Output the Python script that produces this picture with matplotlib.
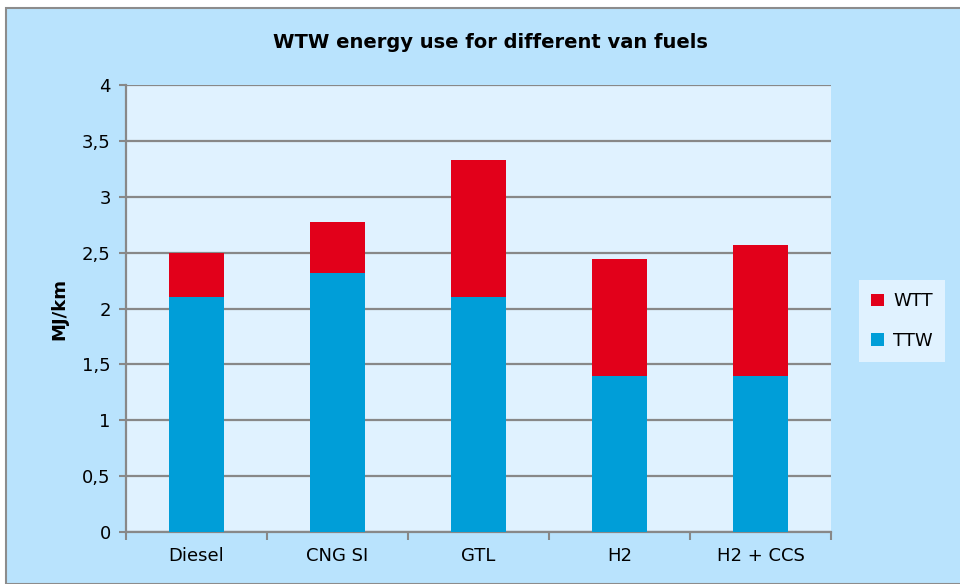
import numpy as np
import matplotlib.pyplot as plt
from matplotlib.patches import Rectangle
from matplotlib.ticker import FuncFormatter

fuels = ["Diesel", "CNG SI", "GTL", "H2", "H2 + CCS"]
ttw = [2.10, 2.32, 2.10, 1.40, 1.40]
wtt = [0.40, 0.45, 1.23, 1.04, 1.17]

plt.rcParams['font.family'] = ['DejaVu Sans']

fig = plt.figure(figsize=(9.6, 5.84), dpi=100)
fig.patch.set_facecolor('white')
bg = Rectangle((6 / 960, 0), 1, 1 - 8 / 584, transform=fig.transFigure,
               facecolor='#b9e3fd', edgecolor='#8c8c8c', linewidth=1.5, zorder=-10)
fig.patches.append(bg)

ax = fig.add_axes([126 / 960, 52 / 584, 705 / 960, 447 / 584])
ax.set_facecolor('#e0f2ff')
x = np.arange(len(fuels))
ax.bar(x, ttw, width=0.39, color='#009ed8', label='TTW', zorder=3)
ax.bar(x, wtt, width=0.39, bottom=ttw, color='#e2001a', label='WTT', zorder=3)

ax.set_xlim(-0.5, len(fuels) - 0.5)
ax.set_ylim(0, 4)
ax.set_yticks(np.arange(0, 4.01, 0.5))
ax.yaxis.set_major_formatter(FuncFormatter(lambda v, p: ('%g' % v).replace('.', ',')))
ax.grid(axis='y', color='#888888', linewidth=1.6, zorder=1)
ax.set_xticks(x)
ax.set_xticklabels(fuels)
ax.set_xticks(np.arange(-0.5, len(fuels)), minor=True)
ax.tick_params(axis='x', which='major', length=0, pad=11, labelsize=13)
ax.tick_params(axis='x', which='minor', length=6, width=1.5, color='#888888')
ax.tick_params(axis='y', length=5, width=1.5, color='#888888', labelsize=13, pad=6)
for s in ['top', 'right']:
    ax.spines[s].set_visible(False)
for s in ['left', 'bottom']:
    ax.spines[s].set_color('#888888')
    ax.spines[s].set_linewidth(1.6)

ax.set_ylabel('MJ/km', fontsize=13, fontweight='bold', labelpad=10)
fig.text(490 / 960, 1 - 42 / 584, 'WTW energy use for different van fuels',
         ha='center', va='center', fontsize=14, fontweight='bold')

h, l = ax.get_legend_handles_labels()
leg = fig.legend(h[::-1], l[::-1], loc='center', bbox_to_anchor=(902 / 960, 1 - 321 / 584),
                 frameon=True, fancybox=False, facecolor='#e0f2ff', edgecolor='none',
                 fontsize=13, handlelength=0.7, handleheight=0.7, labelspacing=1.2,
                 handletextpad=0.5, borderpad=0.7)
leg.get_frame().set_alpha(1)

fig.savefig('out.png', dpi=100)
